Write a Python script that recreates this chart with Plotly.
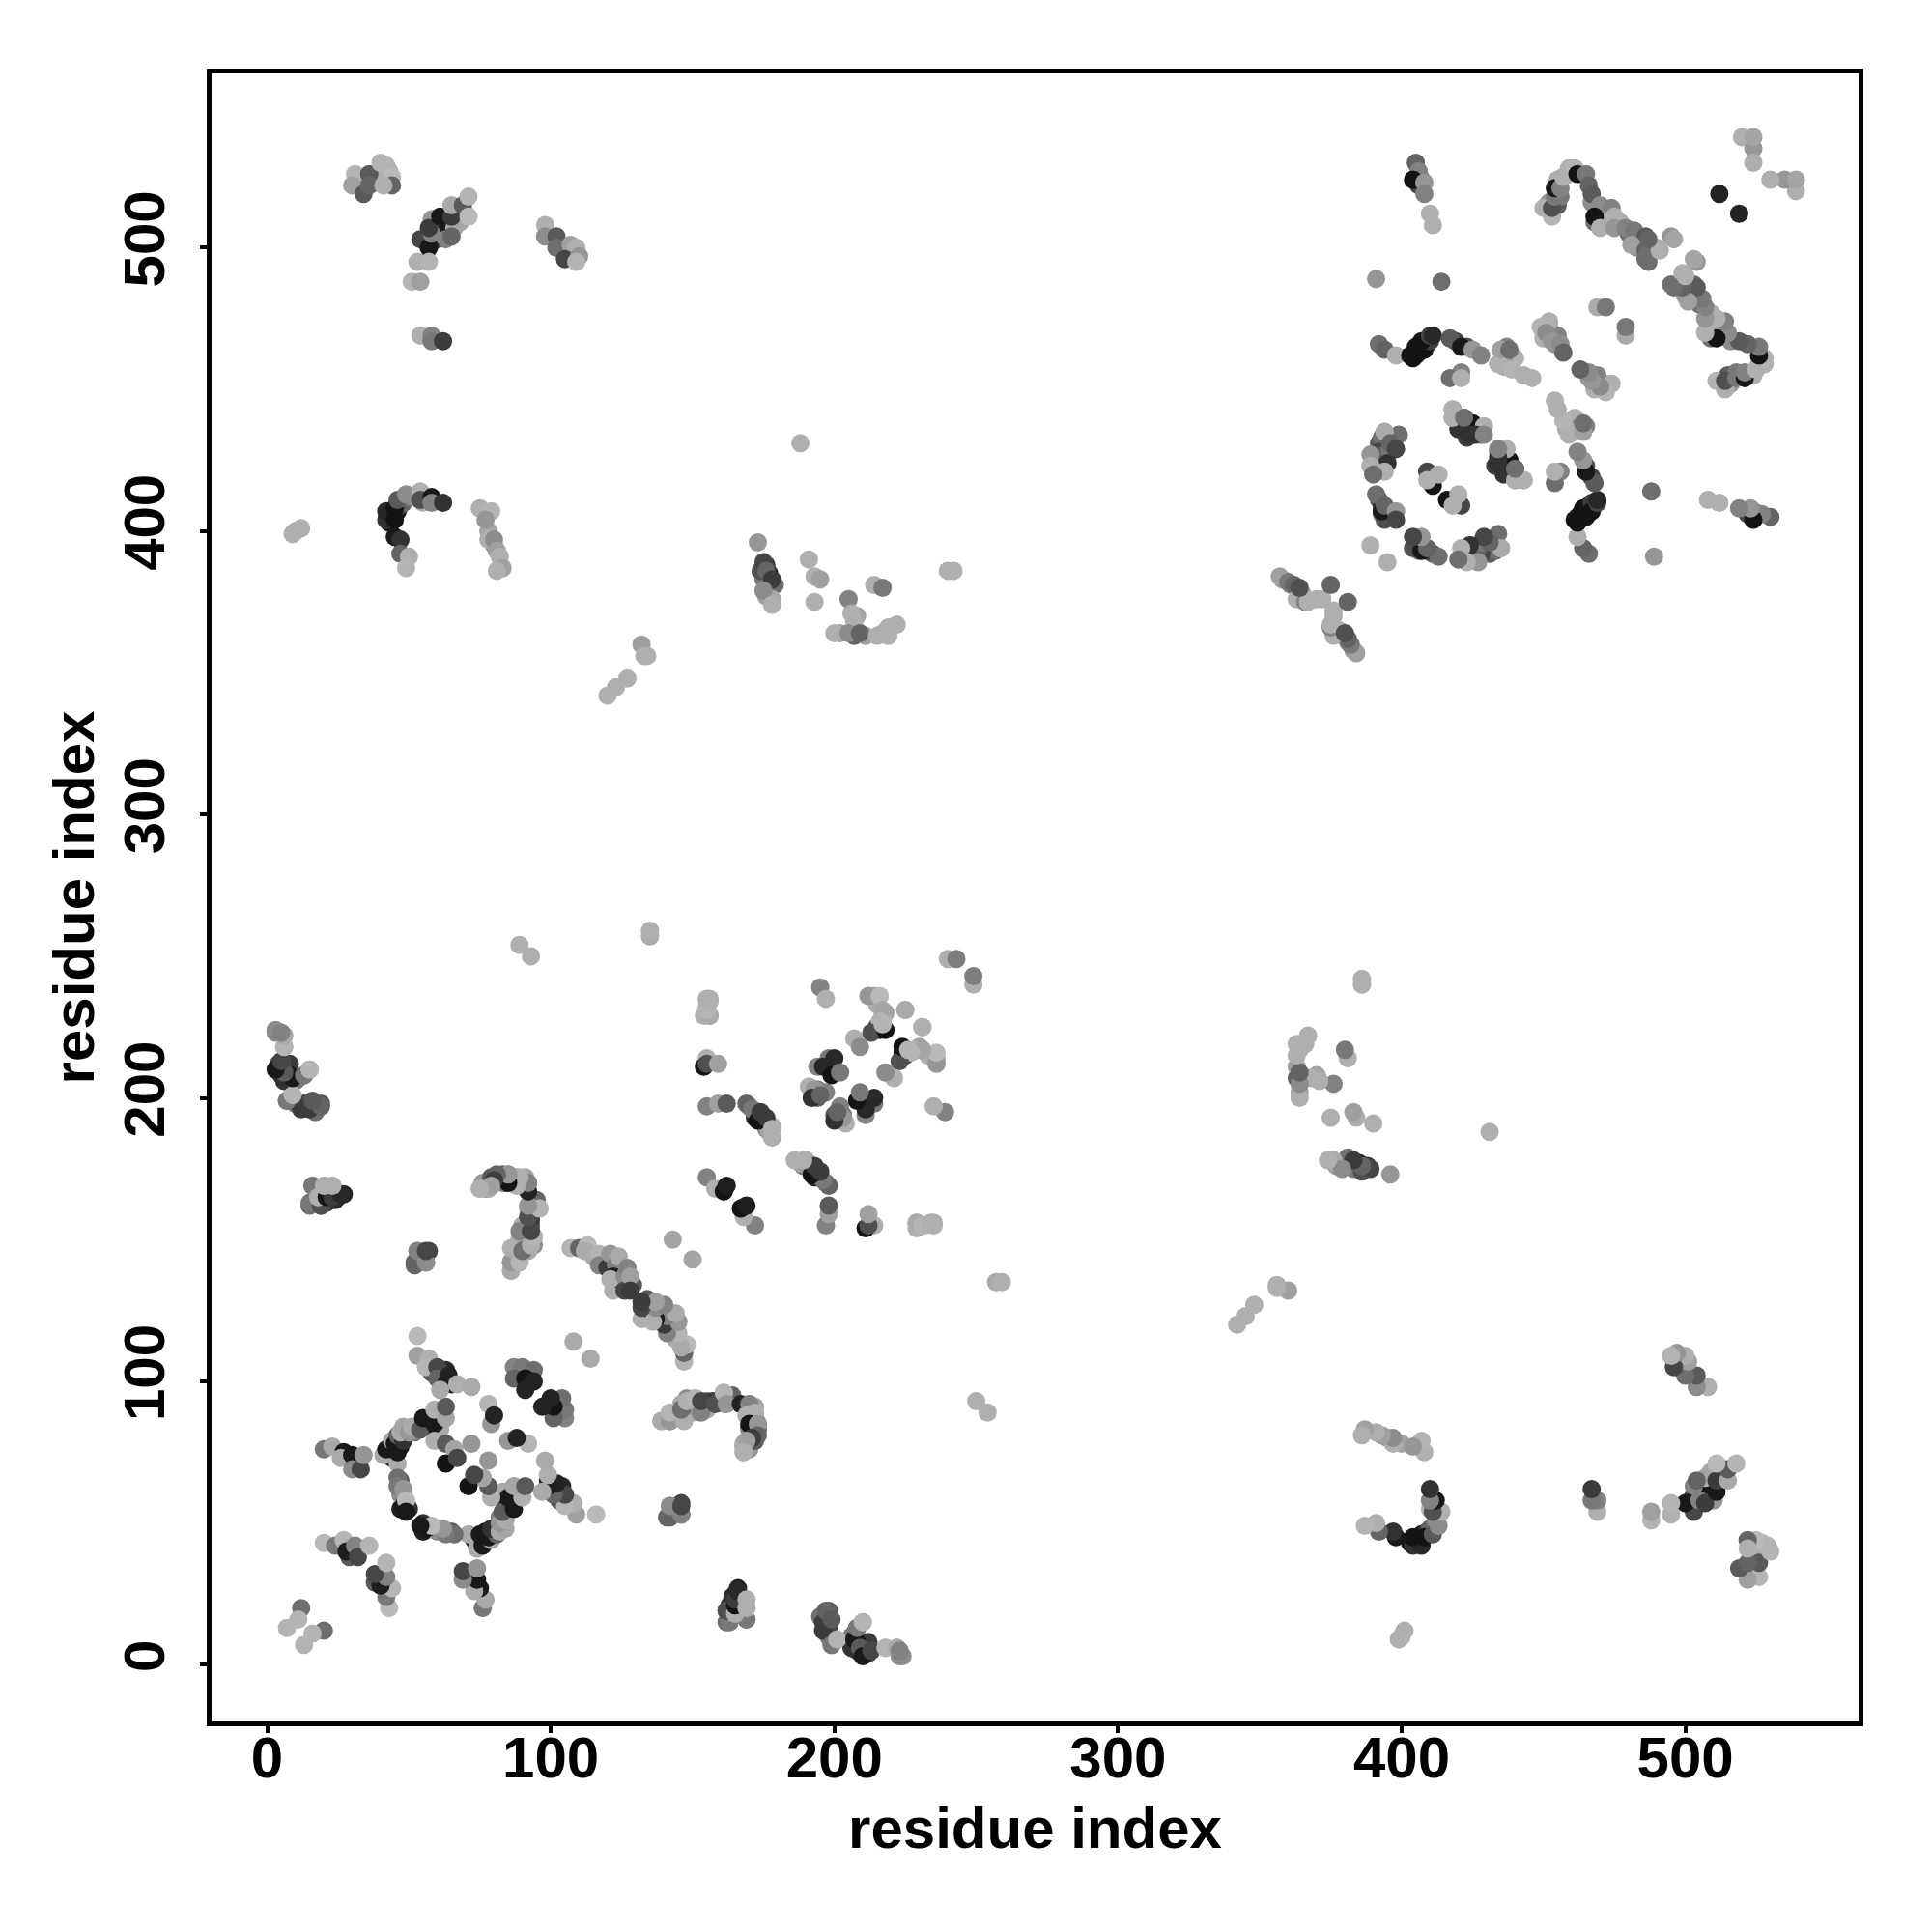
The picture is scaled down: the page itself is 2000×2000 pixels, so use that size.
import plotly.graph_objects as go

# Contact pairs; the map is symmetric, so each cluster
# is listed once and also drawn with its two residue indices swapped.
# Underlying points (hidden in part by the later clusters)
u01_i = [43, 44, 49, 52, 56, 57, 60, 61, 47, 48, 49, 50, 47, 58, 62, 65, 63, 89, 92, 93, 88, 30, 29]
u01_j = [75, 73, 83, 82, 84, 87, 86, 83, 65, 60, 57, 55, 55, 103, 100, 99, 104, 103, 99, 103, 104, 40, 38]
u01_g = [60, 40, 170, 120, 30, 50, 170, 170, 100, 150, 170, 50, 30, 80, 50, 40, 40, 25, 25, 30, 130, 60, 90]

u02_i = [4, 5, 7, 6, 9, 21, 24, 25, 17, 77, 80, 82, 86, 88, 91, 91, 93, 90, 89, 92, 94]
u02_j = [212, 208, 210, 209, 206, 166, 167, 165, 163, 168, 170, 171, 172, 172, 172, 169, 158, 155, 150, 149, 148]
u02_g = [70, 50, 60, 90, 50, 80, 120, 60, 100, 130, 90, 60, 120, 160, 165, 40, 90, 170, 170, 150, 140]

u03_i = [119, 118, 125, 125, 127, 129, 124, 123, 127, 144, 151, 155, 164, 172, 170, 170, 172]
u03_j = [143, 141, 134, 138, 135, 134, 134, 134, 137, 87, 90, 93, 95, 86, 84, 83, 83]
u03_g = [160, 170, 60, 40, 150, 90, 40, 100, 50, 170, 150, 100, 100, 30, 70, 130, 40]

u04_i = [164, 163, 167, 166, 212, 207, 206, 197, 198, 195]
u04_j = [24, 21, 22, 19, 8, 11, 6, 14, 10, 17]
u04_g = [40, 60, 90, 70, 60, 70, 50, 70, 110, 110]

u05_i = [170, 172, 174, 175, 177, 176, 177, 178, 194, 194, 197, 199, 198, 214, 215, 217, 215, 216, 214, 218, 217]
u05_j = [197, 193, 193, 192, 190, 189, 188, 190, 203, 200, 202, 211, 214, 235, 233, 229, 225, 224, 236, 230, 228]
u05_g = [90, 40, 30, 30, 60, 130, 160, 170, 120, 90, 130, 30, 120, 170, 175, 175, 50, 30, 165, 160, 175]

u06_i = [33, 39, 43, 58, 60, 62, 60, 63, 61, 63, 66, 68, 70, 104, 107, 108, 43, 44, 46, 47, 48, 50, 52, 55, 78, 80]
u06_j = [524, 526, 527, 502, 503, 505, 507, 507, 504, 503, 507, 509, 512, 499, 499, 497, 403, 405, 407, 409, 410, 412, 412, 410, 400, 395]
u06_g = [140, 175, 175, 25, 70, 30, 130, 25, 25, 130, 170, 165, 175, 100, 130, 100, 25, 25, 25, 60, 100, 130, 150, 175, 165, 140]

u07_i = [176, 177, 175, 174, 179, 176, 178, 208, 207, 358, 361, 364, 365, 372, 202, 207, 211, 217, 219]
u07_j = [388, 385, 383, 386, 381, 377, 376, 370, 368, 383, 381, 377, 378, 376, 364, 363, 363, 364, 363]
u07_g = [60, 30, 120, 80, 110, 160, 170, 165, 175, 150, 140, 170, 175, 175, 160, 100, 160, 175, 175]

u08_i = [404, 405, 406, 407, 409, 408, 410, 419, 423, 392, 393, 392, 393, 391, 390, 392, 394, 396, 392, 393, 395, 396, 393, 394, 424, 423, 420]
u08_j = [461, 462, 463, 465, 466, 464, 467, 467, 465, 431, 433, 428, 426, 425, 424, 422, 427, 428, 411, 409, 405, 406, 406, 404, 437, 433, 436]
u08_g = [20, 20, 20, 20, 30, 20, 60, 70, 80, 90, 110, 70, 60, 150, 170, 165, 100, 120, 90, 60, 60, 120, 130, 80, 30, 60, 50]

u09_i = [406, 406, 407, 468, 472, 477, 471, 469, 480, 484, 483, 487, 467, 470, 452, 453, 455, 456, 455, 459, 452, 455, 450, 454, 440, 436, 437, 436]
u09_j = [525, 522, 524, 509, 508, 509, 513, 513, 505, 503, 500, 502, 516, 510, 516, 512, 515, 518, 524, 526, 472, 469, 468, 466, 461, 461, 465, 458]
u09_g = [40, 70, 80, 110, 175, 175, 110, 140, 110, 120, 150, 100, 140, 160, 150, 130, 90, 120, 175, 175, 175, 130, 175, 150, 175, 140, 130, 170]

c01_i = [12, 11, 7]
c01_j = [20, 16, 13]
c01_g = [110, 180, 180]

c02_i = [20, 24, 27, 28, 31, 32, 36]
c02_j = [43, 42, 44, 40, 42, 38, 42]
c02_g = [185, 120, 180, 30, 130, 70, 180]

c03_i = [20, 23, 27, 26, 30, 30, 33, 34]
c03_j = [76, 77, 75, 73, 74, 69, 69, 74]
c03_g = [120, 170, 25, 170, 25, 140, 70, 150]

c04_i = [41, 44, 42, 44, 46, 46, 47, 45, 46, 48, 47, 48, 50, 51, 54, 55, 59, 59, 63, 63]
c04_j = [74, 76, 76, 79, 71, 75, 77, 78, 81, 79, 82, 84, 82, 84, 83, 87, 85, 90, 87, 91]
c04_g = [170, 25, 25, 170, 170, 25, 25, 25, 100, 50, 170, 165, 150, 170, 90, 25, 25, 175, 165, 90]

c05_i = [59, 63, 66, 63, 67, 72]
c05_j = [79, 78, 76, 71, 73, 78]
c05_g = [175, 90, 165, 20, 70, 150]

c06_i = [46, 47, 46, 48, 48, 49, 49]
c06_j = [66, 60, 63, 62, 56, 58, 54]
c06_g = [110, 140, 120, 150, 25, 185, 25]

c07_i = [53, 53, 57, 56, 60, 60, 64, 63, 61, 67, 72]
c07_j = [116, 109, 108, 105, 105, 101, 102, 99, 97, 99, 98]
c07_g = [185, 160, 175, 180, 70, 100, 35, 30, 170, 175, 170]

c08_i = [87, 90, 94, 87, 91, 94, 91]
c08_j = [105, 105, 104, 101, 101, 100, 97]
c08_g = [130, 120, 110, 100, 20, 35, 35]

c09_i = [79, 78, 80]
c09_j = [85, 92, 88]
c09_g = [150, 180, 35]

c10_i = [3, 6, 6, 5, 4, 8, 10, 13, 15, 7, 8, 13, 16, 19]
c10_j = [223, 222, 218, 213, 210, 208, 206, 208, 210, 199, 200, 198, 198, 198]
c10_g = [140, 180, 185, 90, 60, 25, 120, 130, 180, 130, 180, 70, 80, 90]

c11_i = [16, 20, 23, 15, 19, 22, 18, 27]
c11_j = [169, 169, 169, 162, 162, 164, 165, 166]
c11_g = [140, 170, 175, 110, 60, 50, 130, 35]

c12_i = [53, 52, 56, 57]
c12_j = [146, 141, 142, 146]
c12_g = [130, 100, 130, 70]

c13_i = [75, 76, 78, 79, 83, 85, 89, 92, 92, 96, 93, 90, 94, 92, 90, 87, 88, 86, 86]
c13_j = [168, 170, 168, 172, 173, 173, 170, 170, 161, 161, 157, 153, 151, 146, 146, 146, 143, 142, 139]
c13_g = [175, 150, 170, 90, 90, 110, 180, 140, 170, 185, 60, 160, 180, 170, 60, 180, 175, 140, 185]

c14_i = [107, 110, 113, 112, 115, 117, 117, 120, 121, 123, 124, 122, 122, 124, 121, 126, 126, 127, 128, 128]
c14_j = [147, 147, 148, 146, 144, 145, 141, 140, 145, 141, 144, 137, 132, 136, 136, 137, 132, 140, 137, 132]
c14_g = [180, 100, 185, 170, 170, 180, 130, 60, 150, 130, 170, 30, 175, 30, 175, 140, 70, 130, 160, 60]

c15_i = [139, 142, 142, 147, 146, 148, 151, 153, 153, 158, 161, 162, 167, 170, 169, 172, 170, 173, 173, 171, 169, 168]
c15_j = [86, 86, 89, 86, 90, 93, 94, 89, 93, 92, 96, 92, 92, 92, 88, 89, 85, 85, 81, 80, 79, 75]
c15_g = [170, 150, 180, 175, 110, 175, 180, 130, 70, 80, 180, 150, 35, 130, 175, 175, 20, 150, 100, 60, 160, 175]

c16_i = [163, 169, 162, 165, 165, 165, 166, 169, 169]
c16_j = [15, 16, 19, 18, 21, 23, 26, 23, 20]
c16_g = [120, 120, 80, 175, 20, 60, 40, 175, 175]

c17_i = [196, 196, 197, 199, 199, 201]
c17_j = [12, 15, 19, 16, 7, 9]
c17_g = [60, 60, 100, 90, 120, 180]

c18_i = [207, 209, 210, 208, 210, 213, 218, 222, 224, 223]
c18_j = [9, 6, 3, 13, 15, 5, 6, 6, 3, 5]
c18_g = [25, 90, 25, 120, 180, 70, 180, 170, 140, 130]

c19_i = [142, 146, 142, 146]
c19_j = [52, 53, 56, 56]
c19_g = [100, 130, 140, 70]

c20_i = [108, 143]
c20_j = [114, 150]
c20_g = [170, 165]

c21_i = [155, 158, 161, 162]
c21_j = [172, 168, 167, 169]
c21_g = [130, 175, 20, 30]

c22_i = [155, 159, 162, 169, 171, 173, 174, 176, 178, 178]
c22_j = [197, 198, 198, 198, 196, 192, 195, 193, 189, 186]
c22_g = [130, 160, 90, 100, 120, 20, 60, 60, 175, 175]

c23_i = [155, 155, 154, 156]
c23_j = [235, 232, 229, 229]
c23_g = [175, 180, 175, 165]

c24_i = [155, 154, 155, 159]
c24_j = [214, 211, 212, 212]
c24_g = [175, 20, 80, 160]

c25_i = [229, 231, 234, 235]
c25_j = [156, 155, 156, 156]
c25_g = [170, 180, 175, 175]

c26_i = [195, 197, 212, 216, 217, 216, 213, 218, 217, 225, 231, 207, 209]
c26_j = [239, 235, 236, 236, 231, 227, 223, 224, 226, 231, 225, 221, 218]
c26_g = [130, 175, 150, 185, 165, 180, 80, 20, 180, 175, 170, 175, 140]

c27_i = [194, 196, 200, 199, 202, 191, 193, 192, 195]
c27_j = [211, 211, 214, 208, 209, 204, 203, 200, 201]
c27_g = [130, 40, 40, 20, 120, 175, 150, 50, 100]

c28_i = [240, 243, 135, 135, 250, 254]
c28_j = [249, 249, 257, 259, 93, 89]
c28_g = [175, 125, 170, 175, 175, 175]

c29_i = [31, 30, 34, 36, 36, 40, 42, 44, 44, 41]
c29_j = [526, 522, 519, 526, 522, 530, 529, 525, 522, 522]
c29_g = [180, 160, 90, 90, 100, 180, 180, 185, 100, 175]

c30_i = [54, 57, 58, 58, 57, 61, 65, 65, 65, 69, 71, 71]
c30_j = [503, 500, 505, 510, 507, 511, 511, 504, 515, 515, 518, 511]
c30_g = [70, 25, 130, 150, 60, 25, 60, 100, 170, 90, 180, 185]

c31_i = [53, 57, 51, 54]
c31_j = [495, 495, 488, 488]
c31_g = [175, 180, 180, 160]

c32_i = [54, 58, 58, 62]
c32_j = [469, 469, 467, 467]
c32_g = [175, 130, 120, 60]

c33_i = [98, 98, 102, 102, 107, 109, 105, 110, 109]
c33_j = [508, 504, 504, 500, 501, 500, 496, 497, 495]
c33_g = [175, 140, 90, 110, 160, 175, 70, 150, 180]

c34_i = [42, 42, 45, 45, 46, 49, 54, 54, 58, 58, 62, 45, 47, 47, 50, 49]
c34_j = [404, 407, 408, 404, 411, 413, 414, 411, 412, 410, 410, 398, 397, 392, 391, 387]
c34_g = [50, 40, 20, 20, 90, 140, 175, 80, 25, 130, 50, 25, 50, 100, 175, 180]

c35_i = [75, 79, 77, 78, 80, 81, 82, 83, 81]
c35_j = [408, 407, 404, 397, 397, 393, 391, 387, 386]
c35_g = [175, 180, 150, 175, 140, 160, 175, 160, 175]

c36_i = [9, 10, 12, 188]
c36_j = [399, 400, 401, 431]
c36_g = [175, 175, 175, 175]

c37_i = [173, 175, 176, 178, 175, 178]
c37_j = [396, 389, 386, 383, 379, 374]
c37_g = [150, 70, 100, 60, 140, 175]

c38_i = [191, 193, 195, 193, 205, 206, 200, 205, 209, 215, 219, 222, 214, 217, 240, 242]
c38_j = [390, 384, 383, 375, 376, 371, 364, 364, 364, 363, 366, 367, 381, 380, 386, 386]
c38_g = [175, 175, 160, 175, 130, 175, 175, 140, 100, 175, 175, 175, 175, 120, 175, 175]

c39_i = [120, 123, 127, 132, 133, 134]
c39_j = [342, 345, 348, 360, 356, 356]
c39_g = [175, 175, 175, 160, 175, 175]

c40_i = [357, 360, 362, 363, 366, 367, 370, 364, 375]
c40_j = [384, 382, 381, 376, 375, 375, 376, 380, 381]
c40_g = [160, 120, 100, 175, 130, 175, 175, 80, 100]

c41_i = [392, 394, 398, 403, 405, 407, 410, 411, 417, 421, 425, 428, 421, 417, 421]
c41_j = [466, 464, 462, 462, 465, 467, 469, 469, 468, 465, 464, 462, 456, 454, 454]
c41_g = [110, 100, 175, 20, 20, 20, 70, 40, 90, 25, 150, 130, 130, 110, 175]

c42_i = [434, 435, 438, 439, 443, 446, 452, 449, 451, 453, 456, 457, 469, 472]
c42_j = [459, 464, 464, 457, 455, 454, 474, 472, 470, 467, 466, 463, 479, 479]
c42_g = [175, 160, 110, 180, 175, 175, 175, 180, 140, 150, 140, 100, 170, 120]

c43_i = [394, 399, 394, 396, 398, 389, 395, 389, 394, 390, 389]
c43_j = [435, 434, 435, 431, 429, 427, 424, 423, 421, 420, 395]
c43_g = [170, 110, 170, 100, 70, 150, 50, 175, 175, 110, 175]

c44_i = [391, 393, 394, 398, 398]
c44_j = [413, 407, 409, 407, 404]
c44_g = [110, 25, 100, 150, 70]

c45_i = [409, 411, 409, 413]
c45_j = [421, 416, 418, 420]
c45_g = [70, 20, 175, 175]

c46_i = [418, 418, 422, 421, 425, 424, 428, 429, 426, 429, 418, 418, 422]
c46_j = [443, 440, 440, 438, 438, 434, 434, 437, 434, 434, 440, 443, 440]
c46_g = [175, 175, 100, 50, 20, 50, 110, 175, 50, 130, 175, 175, 110]

c47_i = [405, 406, 404, 408, 408, 410, 411, 391, 414, 512]
c47_j = [530, 527, 524, 523, 519, 512, 508, 489, 488, 519]
c47_g = [100, 130, 20, 150, 130, 175, 175, 150, 110, 35]

c48_i = [453, 450, 453, 454, 454, 456, 457, 459, 461]
c48_j = [511, 514, 514, 518, 521, 521, 525, 528, 528]
c48_g = [180, 175, 80, 120, 25, 130, 175, 175, 180]

c49_i = [462, 465, 466, 467, 470, 468, 474, 475, 470, 475, 479, 482, 486, 481, 486, 486, 490, 495, 495, 498, 499, 503]
c49_j = [526, 526, 522, 519, 515, 511, 514, 511, 507, 507, 507, 506, 504, 501, 499, 496, 500, 504, 487, 487, 491, 487]
c49_g = [20, 120, 100, 90, 140, 20, 130, 175, 175, 150, 130, 120, 90, 160, 100, 110, 175, 150, 110, 110, 175, 100]

c50_i = [503, 520, 524, 524, 524]
c50_j = [496, 539, 535, 539, 530]
c50_g = [165, 175, 150, 165, 175]

clusters = [
    (u01_i, u01_j, u01_g), (u02_i, u02_j, u02_g), (u03_i, u03_j, u03_g), (u04_i, u04_j, u04_g),
    (u05_i, u05_j, u05_g), (u06_i, u06_j, u06_g), (u07_i, u07_j, u07_g), (u08_i, u08_j, u08_g),
    (u09_i, u09_j, u09_g),
    (c01_i, c01_j, c01_g), (c02_i, c02_j, c02_g), (c03_i, c03_j, c03_g), (c04_i, c04_j, c04_g),
    (c05_i, c05_j, c05_g), (c06_i, c06_j, c06_g), (c07_i, c07_j, c07_g), (c08_i, c08_j, c08_g),
    (c09_i, c09_j, c09_g), (c10_i, c10_j, c10_g), (c11_i, c11_j, c11_g), (c12_i, c12_j, c12_g),
    (c13_i, c13_j, c13_g), (c14_i, c14_j, c14_g), (c15_i, c15_j, c15_g), (c16_i, c16_j, c16_g),
    (c17_i, c17_j, c17_g), (c18_i, c18_j, c18_g), (c19_i, c19_j, c19_g), (c20_i, c20_j, c20_g),
    (c21_i, c21_j, c21_g), (c22_i, c22_j, c22_g), (c23_i, c23_j, c23_g), (c24_i, c24_j, c24_g),
    (c25_i, c25_j, c25_g), (c26_i, c26_j, c26_g), (c27_i, c27_j, c27_g), (c28_i, c28_j, c28_g),
    (c29_i, c29_j, c29_g), (c30_i, c30_j, c30_g), (c31_i, c31_j, c31_g), (c32_i, c32_j, c32_g),
    (c33_i, c33_j, c33_g), (c34_i, c34_j, c34_g), (c35_i, c35_j, c35_g), (c36_i, c36_j, c36_g),
    (c37_i, c37_j, c37_g), (c38_i, c38_j, c38_g), (c39_i, c39_j, c39_g), (c40_i, c40_j, c40_g),
    (c41_i, c41_j, c41_g), (c42_i, c42_j, c42_g), (c43_i, c43_j, c43_g), (c44_i, c44_j, c44_g),
    (c45_i, c45_j, c45_g), (c46_i, c46_j, c46_g), (c47_i, c47_j, c47_g), (c48_i, c48_j, c48_g),
    (c49_i, c49_j, c49_g), (c50_i, c50_j, c50_g),
]

tick_values = [0, 100, 200, 300, 400, 500]
axis_title = "residue index"

xs, ys, colors = [], [], []
for ci, cj, cg in clusters:
    assert len(ci) == len(cj) == len(cg), ci
    xs += ci + cj
    ys += cj + ci
    colors += [f"rgb({g},{g},{g})" for g in cg] * 2

FONT = dict(family="Liberation Sans", size=60, color="black")
fig = go.Figure(go.Scatter(x=xs, y=ys, mode="markers", hoverinfo="skip",
                           marker=dict(size=19, color=colors, line=dict(width=0))))

axis_common = dict(
    tickmode="array", tickvals=tick_values, ticktext=[f"<b>{v}</b>" for v in tick_values],
    tickfont=FONT, showgrid=False, zeroline=False, showline=True, linecolor="black", linewidth=5,
    mirror=True, ticks="outside", ticklen=7, tickwidth=4, tickcolor="black",
)
fig.update_layout(
    width=2000, height=2000, autosize=False, showlegend=False,
    paper_bgcolor="white", plot_bgcolor="white",
    margin=dict(l=211, r=84, t=68, b=226, autoexpand=False),
    xaxis=dict(range=[-19.6, 561.1], ticklabelstandoff=-26,
               title=dict(text=f"<b>{axis_title}</b>", font=FONT, standoff=20), **axis_common),
    yaxis=dict(range=[-20.0, 561.5], tickangle=-90, ticklabelstandoff=13,
               title=dict(text=f"<b>{axis_title}</b>", font=FONT, standoff=1), **axis_common),
)
fig.write_html("out.html")
